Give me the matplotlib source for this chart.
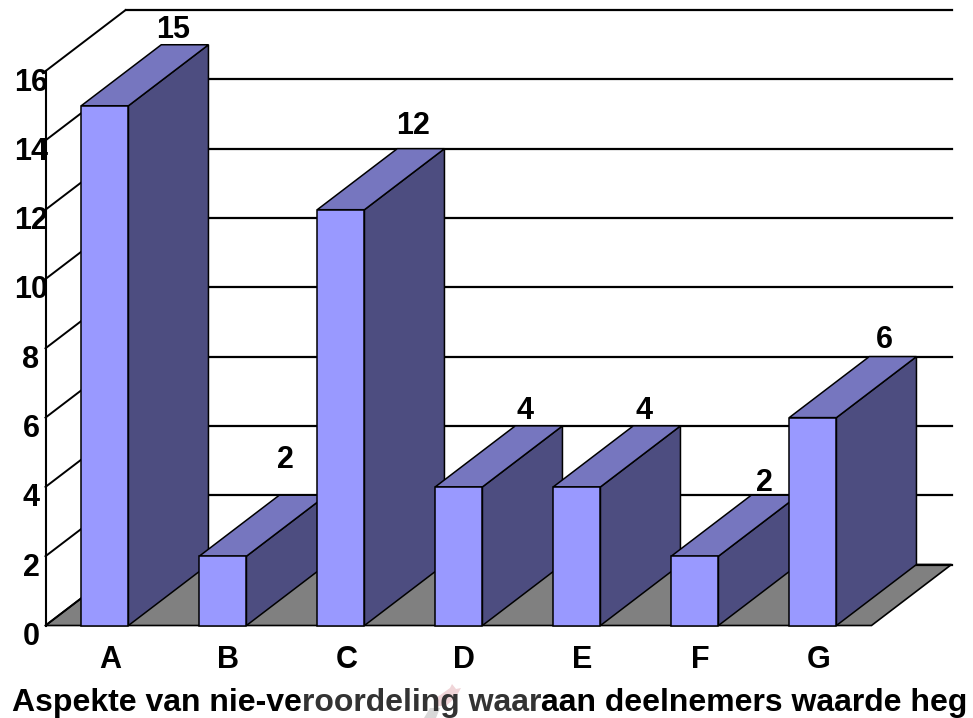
"""
3D style column chart (old Excel look), drawn on a flat axes with a sheared depth.
"""
import matplotlib
matplotlib.use('Agg')
from matplotlib import pyplot as plt
from matplotlib.patches import Polygon

categories = ['A', 'B', 'C', 'D', 'E', 'F', 'G']
values = [15, 2, 12, 4, 4, 2, 6]
y_ticks = [0, 2, 4, 6, 8, 10, 12, 14, 16]

# label nudges, in data units
label_dx = [0.10, 0.05, 0.13, 0.08, 0.09, 0.11, 0.13]
label_dy = [0.44, 1.03, 0.65, 0.43, 0.43, 0.34, 0.49]

title_parts = [('Aspekte van nie-ve', 'black'),
               ('roordeling waar', '#333333'),
               ('aan deelnemers waarde heg', 'black')]

W, H = 973, 718
x_unit = 118.0    # pixels per category
y_unit = 34.65    # pixels per value unit
x_org = 45.5
y_org = 625.5
depth_x = 80.0 / x_unit
depth_y = 61.0 / y_unit
bar_left = 0.303
bar_width = 0.40

front_col = '#9999FF'
top_col = '#7676BF'
side_col = '#4D4D80'
floor_col = '#808080'
line_col = '#000000'
font_size = 22
title_size = 23

plt.rcParams['font.family'] = ['Liberation Sans', 'DejaVu Sans']


def px(x, y):
    # picture pixels to data coordinates
    return ((x - x_org) / x_unit, (y_org - y) / y_unit)


fig = plt.figure(figsize=(W / 100, H / 100), dpi=100)
ax = fig.add_axes([0, 0, 1, 1])
ax.set_xlim(-x_org / x_unit, (W - x_org) / x_unit)
ax.set_ylim(-(H - y_org) / y_unit, y_org / y_unit)
ax.axis('off')

n = len(categories)
ymax = y_ticks[-1]

# floor
ax.add_patch(Polygon([(0, 0), (depth_x, depth_y), (n + depth_x, depth_y), (n, 0)],
                     facecolor=floor_col, edgecolor=line_col, lw=1.2, zorder=1))

# wall lines
ax.plot([0, 0], [0, ymax], color=line_col, lw=1.5, zorder=2)
for t in y_ticks:
    ax.plot([0, depth_x], [t, t + depth_y], color=line_col, lw=1.4, zorder=2)
    ax.plot([depth_x, n + depth_x], [t + depth_y, t + depth_y], color=line_col, lw=1.6, zorder=2)

# bars, left to right so the later ones cover the earlier side faces
for i, v in enumerate(values):
    x0 = i + bar_left
    x1 = x0 + bar_width
    z = 3 + i
    ax.add_patch(Polygon([(x1, 0), (x1 + depth_x, depth_y), (x1 + depth_x, v + depth_y), (x1, v)],
                         facecolor=side_col, edgecolor=line_col, lw=1.1, zorder=z))
    ax.add_patch(Polygon([(x0, v), (x0 + depth_x, v + depth_y), (x1 + depth_x, v + depth_y), (x1, v)],
                         facecolor=top_col, edgecolor=line_col, lw=1.1, zorder=z))
    ax.add_patch(Polygon([(x0, 0), (x1, 0), (x1, v), (x0, v)],
                         facecolor=front_col, edgecolor=line_col, lw=1.1, zorder=z))
    ax.text(x0 + depth_x + label_dx[i], v + depth_y + label_dy[i], str(v),
            ha='center', va='center', fontsize=font_size, fontweight='bold', zorder=20)
    ax.text(i + 0.55, -34.0 / y_unit, categories[i],
            ha='center', va='center', fontsize=font_size, fontweight='bold', zorder=20)

for t in y_ticks:
    ax.text(-14.5 / x_unit, t - 11.5 / y_unit, str(t),
            ha='center', va='center', fontsize=font_size, fontweight='bold', zorder=20)

# faint stamp behind the title in the source picture
ax.add_patch(Polygon([px(436, 698), px(450, 688), px(452, 684), px(456, 689), px(461, 688),
                      px(456, 697), px(446, 706), px(438, 706)],
                     facecolor='#F0D5D8', edgecolor='none', zorder=15))
ax.add_patch(Polygon([px(424, 718), px(430, 708), px(440, 708), px(436, 718)],
                     facecolor='#D8D8D8', edgecolor='none', zorder=15))

# title, the middle bit is greyed in the original
renderer = fig.canvas.get_renderer()
xpix = 12.0
for part, col in title_parts:
    txt = ax.text((xpix - x_org) / x_unit, -(710.5 - y_org) / y_unit, part, color=col,
                  ha='left', va='baseline', fontsize=title_size, fontweight='bold', zorder=20)
    bb = txt.get_window_extent(renderer)
    xpix = bb.x1

fig.savefig('out.png', dpi=100)
